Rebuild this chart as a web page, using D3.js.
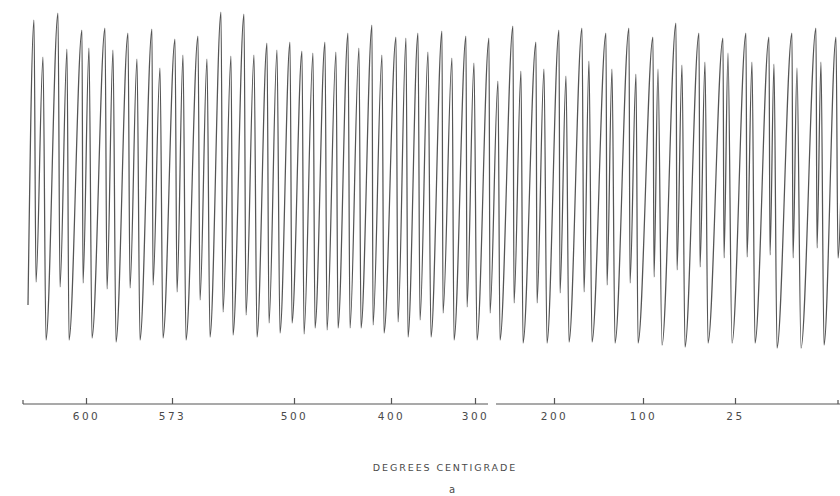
<!DOCTYPE html>
<html>
<head>
<meta charset="utf-8">
<script src="https://cdnjs.cloudflare.com/ajax/libs/d3/7.8.5/d3.min.js"></script>
<style>
body { margin: 0; background: #fff; }
svg { display: block; }
text { font-family: "DejaVu Sans", sans-serif; fill: #4a4a4a; }
</style>
</head>
<body>
<svg width="840" height="496"></svg>
<script>
const width = 840, height = 496;
const svg = d3.select("svg");

// recorder trace: turning points in order (chart position, pen deflection)
const tracePos = [
	2.8, 3.4, 3.6, 4.3, 4.6,
	5.8, 6.0, 6.7, 6.9,
	8.2, 8.3, 8.9, 9.2,
	10.5, 10.7, 11.3, 11.6,
	12.8, 13.0, 13.7, 14.0,
	15.2, 15.3, 16.0, 16.3,
	17.5, 17.7, 18.3, 18.6,
	19.8, 20.0, 20.7, 21.0,
	22.1, 22.3, 23.1, 23.3,
	24.4, 24.6, 25.4, 25.7,
	26.7, 26.9, 27.7, 28.0,
	29.0, 29.2, 30.2, 30.4,
	31.3, 31.5, 32.5, 32.7,
	33.6, 33.8, 34.8, 35.0,
	35.9, 36.1, 37.2, 37.3,
	38.2, 38.4, 39.6, 39.8,
	40.6, 40.8, 41.8, 42.0,
	42.8, 43.1, 44.2, 44.3,
	45.2, 45.4, 46.6, 46.7,
	47.4, 47.7, 48.9, 49.0,
	49.8, 50.0, 51.3, 51.4,
	52.1, 52.3, 53.6, 53.7,
	54.4, 54.7, 55.9, 56.0,
	56.6, 56.9, 58.2, 58.4,
	58.9, 59.2, 60.6, 60.7,
	61.2, 61.5, 62.9, 63.0,
	63.6, 63.8, 65.3, 65.4,
	65.8, 66.2, 67.6, 67.7,
	68.2, 68.5, 69.9, 70.0,
	70.5, 70.8, 72.3, 72.4,
	72.8, 73.2, 74.6, 74.7,
	75.2, 75.5, 76.9, 77.0,
	77.4, 77.7, 79.2, 79.3,
	79.7, 80.1, 81.6, 81.7,
	82.1, 82.4, 83.6, 83.8,
	84.3
];
const traceVal = [
	4.0, 32.5, 6.3, 28.8, 0.5,
	33.2, 5.8, 29.6, 0.5,
	31.5, 6.2, 29.7, 0.7,
	31.7, 5.6, 29.5, 0.3,
	31.2, 5.7, 28.6, 0.5,
	31.6, 6.0, 27.7, 0.7,
	30.6, 5.3, 29.0, 0.5,
	30.9, 4.5, 28.6, 0.8,
	33.3, 3.3, 28.9, 1.0,
	33.1, 3.0, 29.0, 0.8,
	30.2, 2.2, 29.5, 1.2,
	30.3, 2.2, 29.4, 1.1,
	29.2, 1.7, 30.3, 1.5,
	29.3, 1.7, 31.2, 1.7,
	29.7, 1.7, 32.0, 2.0,
	29.0, 1.2, 30.8, 2.3,
	30.7, 0.8, 31.2, 2.5,
	29.3, 0.8, 31.4, 3.2,
	28.7, 0.5, 30.9, 3.8,
	28.2, 0.5, 30.7, 3.2,
	26.4, 0.5, 31.9, 4.2,
	27.4, 0.2, 30.3, 4.2,
	27.6, 0.2, 31.5, 5.2,
	26.9, 0.3, 31.7, 5.3,
	28.4, 0.3, 31.2, 6.0,
	27.6, 0.2, 31.7, 6.2,
	27.1, 0.2, 30.8, 6.8,
	27.6, 0.0, 32.2, 7.5,
	28.0, -0.2, 31.2, 7.8,
	28.3, 0.2, 30.7, 8.7,
	29.2, 0.2, 31.2, 8.8,
	28.3, 0.2, 30.8, 9.0,
	28.1, -0.3, 31.2, 8.7,
	27.7, -0.3, 31.7, 9.7,
	28.3, 0.0, 30.8, 8.7,
	25
];

// temperature scale under the trace
const tickPos = [8.6, 17.2, 29.4, 39.1, 47.5, 55.4, 64.3, 73.5];
const tickLabels = ["600", "573", "500", "400", "300", "200", "100", "25"];
const axisSegments = [[2.3, 48.8], [49.6, 84.0]];
const endTicks = [2.3, 83.8];

const x = d3.scaleLinear().domain([0, 84]).range([0, 840]);
const y = d3.scaleLinear().domain([0, 34]).range([345, 5]);

const traceData = d3.zip(tracePos, traceVal);

const line = d3.line()
	.x(d => x(d[0]))
	.y(d => y(d[1]))
	.curve(d3.curveMonotoneX);

svg.append("path")
	.datum(traceData)
	.attr("fill", "none")
	.attr("stroke", "#555")
	.attr("stroke-width", 1.25)
	.attr("stroke-linejoin", "round")
	.attr("d", line);

// axis
const axisY = 404;
const axisG = svg.append("g").attr("transform", `translate(0,${axisY})`);

axisG.call(d3.axisBottom(x)
	.tickValues(tickPos)
	.tickFormat((d, i) => tickLabels[i])
	.tickSizeInner(-6)
	.tickSizeOuter(0)
	.tickPadding(9));

axisG.select(".domain").remove();
axisG.selectAll(".tick line").attr("stroke", "#555").attr("stroke-width", 1.2);
axisG.selectAll(".tick text")
	.attr("font-size", 10.5)
	.attr("font-family", "DejaVu Sans, sans-serif")
	.attr("fill", "#4a4a4a")
	.style("letter-spacing", "2.5px");

axisG.selectAll(".seg")
	.data(axisSegments)
	.enter()
	.append("line")
	.attr("class", "seg")
	.attr("x1", d => x(d[0]))
	.attr("x2", d => x(d[1]))
	.attr("y1", 0)
	.attr("y2", 0)
	.attr("stroke", "#555")
	.attr("stroke-width", 1.2);

axisG.selectAll(".endtick")
	.data(endTicks)
	.enter()
	.append("line")
	.attr("class", "endtick")
	.attr("x1", d => x(d))
	.attr("x2", d => x(d))
	.attr("y1", 0)
	.attr("y2", -4)
	.attr("stroke", "#555")
	.attr("stroke-width", 1.2);

// title
svg.append("text")
	.attr("x", 445)
	.attr("y", 471)
	.attr("text-anchor", "middle")
	.attr("font-size", 9.5)
	.style("letter-spacing", "1.9px")
	.text("DEGREES CENTIGRADE");

svg.append("text")
	.attr("x", 452)
	.attr("y", 493)
	.attr("text-anchor", "middle")
	.attr("font-size", 10)
	.text("a");
</script>
</body>
</html>
